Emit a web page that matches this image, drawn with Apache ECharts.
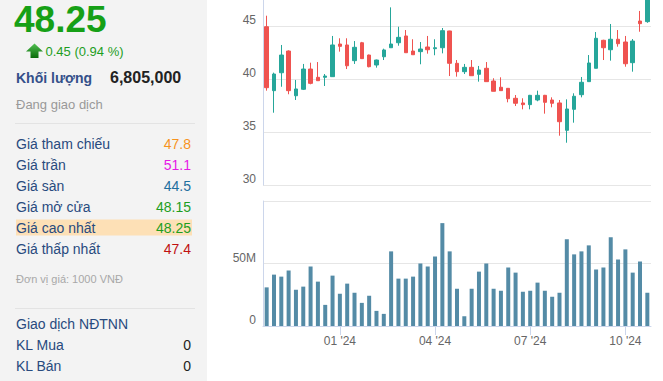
<!DOCTYPE html>
<html>
<head>
<meta charset="utf-8">
<script src="https://cdn.jsdelivr.net/npm/echarts@6/dist/echarts.min.js"></script>
<style>
html,body{margin:0;padding:0;background:#fff;}
#chart{width:663px;height:381px;}
</style>
</head>
<body>
<div id="chart"></div>
<script>
// ---- data ----
const weeks = ['2023-10-23','2023-10-30','2023-11-06','2023-11-13','2023-11-20','2023-11-27','2023-12-04','2023-12-11','2023-12-18','2023-12-25',
  '2024-01-01','2024-01-08','2024-01-15','2024-01-22','2024-01-29','2024-02-05','2024-02-12','2024-02-19','2024-02-26','2024-03-04',
  '2024-03-11','2024-03-18','2024-03-25','2024-04-01','2024-04-08','2024-04-15','2024-04-22','2024-04-29','2024-05-06','2024-05-13',
  '2024-05-20','2024-05-27','2024-06-03','2024-06-10','2024-06-17','2024-06-24','2024-07-01','2024-07-08','2024-07-15','2024-07-22',
  '2024-07-29','2024-08-05','2024-08-12','2024-08-19','2024-08-26','2024-09-02','2024-09-09','2024-09-16','2024-09-23','2024-09-30',
  '2024-10-07','2024-10-14','2024-10-21'];
const openP  = [44.93,38.90,40.59,42.64,38.42,39.03,40.94,40.16,40.16,40.22,43.30,43.21,41.73,43.42,42.26,41.32,42.10,42.95,43.42,44.06,42.64,42.58,43.02,42.86,42.95,44.53,41.48,40.69,41.10,40.44,41.01,39.81,39.22,39.12,38.18,37.74,37.58,38.02,38.46,38.02,37.74,35.16,37.14,38.52,39.75,41.01,43.65,42.76,43.75,43.49,41.54,45.47,45.41];
const closeP = [39.18,40.47,42.26,38.90,39.06,40.94,39.59,39.84,40.28,43.21,43.08,41.25,42.99,41.92,41.16,41.79,42.74,43.30,43.93,42.48,42.29,42.83,42.76,42.95,44.56,41.48,40.69,41.10,40.31,40.85,39.75,38.84,38.90,38.14,37.71,37.58,38.46,38.46,37.80,37.71,35.97,37.17,38.37,39.69,41.51,43.84,42.95,43.75,43.33,41.44,43.58,45.22,48.25];
const lowP   = [38.90,36.82,39.27,38.56,38.02,38.96,39.50,39.84,39.34,40.20,42.58,40.94,41.42,41.90,41.10,41.07,41.79,42.95,43.14,42.48,42.29,41.39,42.39,42.24,42.42,40.28,40.22,40.47,40.31,39.75,39.75,38.84,38.90,37.80,37.45,37.14,37.14,37.90,36.73,37.33,34.65,33.99,35.88,38.27,39.75,41.00,41.79,41.73,43.05,41.16,40.69,44.46,45.30];
const highP  = [45.97,40.60,43.21,42.70,39.91,41.42,41.54,41.60,40.47,44.06,43.84,43.84,43.58,43.50,42.30,41.83,42.86,46.76,44.93,44.62,43.75,43.49,44.06,43.75,44.81,44.55,41.79,41.42,41.79,41.23,41.60,40.07,40.16,39.15,38.49,38.18,38.50,38.90,38.50,38.27,38.02,38.08,38.65,40.19,42.26,44.43,43.70,45.19,44.62,44.06,43.77,46.42,48.40];
const volumeM = [30.9,41.1,39.5,44.4,29.0,31.5,47.6,35.5,16.9,40.3,25.8,33.9,26.6,18.5,24.2,12.1,9.7,59.7,37.9,37.9,39.5,50.0,47.6,55.6,82.3,59.7,29.8,7.8,29.8,43.5,50.0,29.8,28.2,46.8,42.7,27.4,28.2,34.7,28.2,23.4,26.6,69.4,57.3,59.7,64.5,45.2,46.8,71.0,53.2,61.3,42.7,51.6,26.6];
const tickDates = ['2024-01-01','2024-04-01','2024-07-01','2024-09-30'];
const tickLabels = ["01 '24","04 '24","07 '24","10 '24"];
const priceTicks = [30, 35, 40, 45, 50];
const volumeTickLabels = {0: '0', 50: '50M'};

// left panel texts
const quote = {price: '48.25', change: '0.45 (0.94 %)', volumeLabel: 'Khối lượng', volume: '6,805,000', status: 'Đang giao dịch'};
const infoLabels = ['Giá tham chiếu','Giá trần','Giá sàn','Giá mở cửa','Giá cao nhất','Giá thấp nhất'];
const infoValues = ['47.8','51.1','44.5','48.15','48.25','47.4'];
const unitNote = 'Đơn vị giá: 1000 VNĐ';
const foreignLabels = ['Giao dịch NĐTNN','KL Mua','KL Bán'];
const foreignValues = ['', '0', '0'];

// ---- style ----
const FONT = "'Liberation Sans', Arial, sans-serif";
const infoColors = ['#f7931e','#e619e6','#1f6f9f','#1e9e1e','#1e9e1e','#c01010'];
const infoY = [144, 165, 186, 207, 228, 248.5];
const foreignY = [324, 345, 366];
const axisLineColor = '#ccd6eb';
const gridColor = '#e6e6e6';
const labelColor = '#666666';

const candleData = weeks.map((w, i) => [openP[i], closeP[i], lowP[i], highP[i]]);

const g = [];
g.push({type:'rect', z:-10, shape:{x:0,y:0,width:207,height:381}, style:{fill:'#f3f3f3'}, silent:true});
g.push({type:'text', x:14, y:19.5, style:{text:quote.price, fill:'#16a016', font:'bold 37px ' + FONT, align:'left', verticalAlign:'middle'}});
g.push({type:'polygon', shape:{points:[[34.5,43.5],[43,51.5],[38.5,51.5],[38.5,58],[30.5,58],[30.5,51.5],[26,51.5]]},
  style:{fill:{type:'linear',x:0,y:0,x2:0,y2:1,colorStops:[{offset:0,color:'#52c152'},{offset:1,color:'#0a6a0a'}]}}});
g.push({type:'text', x:45.5, y:51, style:{text:quote.change, fill:'#1e9e1e', font:'13px ' + FONT, align:'left', verticalAlign:'middle'}});
g.push({type:'text', x:16, y:78, style:{text:quote.volumeLabel, fill:'#34508a', font:'bold 14px ' + FONT, align:'left', verticalAlign:'middle'}});
g.push({type:'text', x:110, y:77, style:{text:quote.volume, fill:'#222', font:'bold 16px ' + FONT, align:'left', verticalAlign:'middle'}});
g.push({type:'text', x:16, y:104, style:{text:quote.status, fill:'#999', font:'13px ' + FONT, align:'left', verticalAlign:'middle'}});
g.push({type:'line', shape:{x1:15,y1:123.5,x2:195,y2:123.5}, style:{stroke:'#e3e3e3', lineWidth:1}});
g.push({type:'rect', shape:{x:16,y:219.5,width:176,height:16}, style:{fill:'#fde0b6'}});
infoLabels.forEach((t, i) => {
  g.push({type:'text', x:16, y:infoY[i], style:{text:t, fill:'#284a7e', font:'14px ' + FONT, align:'left', verticalAlign:'middle'}});
  g.push({type:'text', x:191, y:infoY[i], style:{text:infoValues[i], fill:infoColors[i], font:'14px ' + FONT, align:'right', verticalAlign:'middle'}});
});
g.push({type:'text', x:16, y:278.5, style:{text:unitNote, fill:'#a8a8a8', font:'11px ' + FONT, align:'left', verticalAlign:'middle'}});
g.push({type:'line', shape:{x1:15,y1:308.5,x2:195,y2:308.5}, style:{stroke:'#e3e3e3', lineWidth:1}});
foreignLabels.forEach((t, i) => {
  g.push({type:'text', x:16, y:foreignY[i], style:{text:t, fill:'#284a7e', font:'14px ' + FONT, align:'left', verticalAlign:'middle'}});
  if (foreignValues[i]) g.push({type:'text', x:191, y:foreignY[i], style:{text:foreignValues[i], fill:'#222', font:'14px ' + FONT, align:'right', verticalAlign:'middle'}});
});

const tickIdx = tickDates.map(d => weeks.indexOf(d));
const isTick = (i) => tickIdx.indexOf(i) >= 0;

const chart = echarts.init(document.getElementById('chart'), null, {renderer:'svg'});
chart.setOption({
  animation:false,
  backgroundColor:'#ffffff',
  graphic:{elements:g},
  grid:[
    {left:263, right:12, top:-27, bottom:196, outerBoundsMode:'none', containLabel:false},
    {left:263, right:12, top:201, bottom:55, outerBoundsMode:'none', containLabel:false}
  ],
  xAxis:[
    {type:'category', gridIndex:0, data:weeks, boundaryGap:true,
      axisLine:{show:false}, axisTick:{show:false}, axisLabel:{show:false}, splitLine:{show:false}},
    {type:'category', gridIndex:1, data:weeks, boundaryGap:true,
      axisLine:{show:true, lineStyle:{color:axisLineColor, width:1}},
      axisTick:{show:true, alignWithLabel:true, length:9, interval:(i) => isTick(i), lineStyle:{color:axisLineColor}},
      axisLabel:{show:true, interval:(i) => isTick(i), margin:9, color:labelColor, fontSize:12, fontFamily:FONT,
        formatter:(v) => { const k = tickDates.indexOf(v); return k >= 0 ? tickLabels[k] : ''; }},
      splitLine:{show:false}}
  ],
  yAxis:[
    {type:'value', gridIndex:0, min:priceTicks[0], max:priceTicks[priceTicks.length-1], interval:5, position:'left',
      axisLine:{show:true, lineStyle:{color:axisLineColor}}, axisTick:{show:false},
      axisLabel:{color:labelColor, fontSize:12, fontFamily:FONT, margin:7, verticalAlign:'bottom', showMaxLabel:false},
      splitLine:{show:true, lineStyle:{color:gridColor, width:1}}},
    {type:'value', gridIndex:1, min:0, max:100, interval:50, position:'left',
      axisLine:{show:true, lineStyle:{color:axisLineColor}}, axisTick:{show:false},
      axisLabel:{color:labelColor, fontSize:12, fontFamily:FONT, margin:7, verticalAlign:'bottom', showMaxLabel:false,
        formatter:(v) => volumeTickLabels[v] !== undefined ? volumeTickLabels[v] : ''},
      splitLine:{show:true, lineStyle:{color:gridColor, width:1}}}
  ],
  series:[
    {type:'candlestick', xAxisIndex:0, yAxisIndex:0, data:candleData, barWidth:4,
      itemStyle:{color:'#26a69a', color0:'#ef5350', borderColor:'#26a69a', borderColor0:'#ef5350', borderWidth:1}},
    {type:'bar', xAxisIndex:1, yAxisIndex:1, data:volumeM, barWidth:4, itemStyle:{color:'#548ba6'}}
  ]
});
</script>
</body>
</html>
